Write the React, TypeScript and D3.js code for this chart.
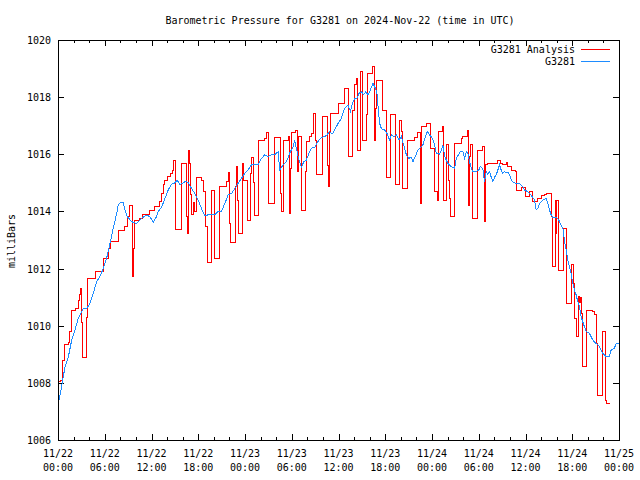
import React from "react";
import * as d3 from "d3";

// Time origin: 2024-11-22 00:00 UTC; times are hours after it
const T0 = Date.UTC(2024, 10, 22, 0, 0, 0);
const SPAN_HOURS = 72;

const title = "Barometric Pressure for G3281 on 2024-Nov-22 (time in UTC)";
const yAxisLabel = "milliBars";
const seriesNames = ["G3281 Analysis", "G3281"];
const seriesColors = ["#ff0000", "#1e8cff"];
const yTicks = [1006, 1008, 1010, 1012, 1014, 1016, 1018, 1020];

// G3281 (observations)
const blueHours = [
  0.13, 0.47, 0.9, 1.32, 1.76, 2.18, 2.6, 3.04, 3.24, 3.68,
  4.1, 4.53, 4.96, 5.38, 5.81, 6.24, 6.67, 7.09, 7.53, 7.73,
  8.04, 8.37, 8.59, 8.88, 9.45, 10.09, 10.73, 11.37, 11.79, 12.22,
  12.65, 12.86, 13.29, 13.72, 14.14, 14.58, 15.0, 15.29, 15.64, 16.28,
  16.71, 17.14, 17.56, 17.99, 18.42, 18.85, 19.27, 19.71, 20.13, 20.55,
  20.99, 21.41, 21.83, 22.27, 22.69, 23.12, 23.55, 23.97, 24.4, 24.83,
  25.26, 25.68, 26.12, 26.54, 26.96, 27.4, 27.82, 28.24, 28.46, 28.88,
  29.32, 29.74, 30.17, 30.38, 30.6, 30.81, 31.24, 31.54, 31.88, 32.22,
  32.53, 32.95, 33.37, 33.81, 34.23, 34.53, 34.87, 35.17, 35.51, 35.94,
  36.37, 36.79, 37.22, 37.53, 37.78, 38.08, 38.37, 38.63, 38.94, 39.23,
  39.49, 39.78, 40.09, 40.42, 40.73, 40.94, 41.06, 41.28, 41.5, 41.92,
  42.22, 42.56, 42.78, 43.12, 43.42, 43.76, 44.06, 44.36, 44.71, 45.04,
  45.35, 45.55, 45.86, 46.19, 46.5, 46.83, 47.18, 47.4, 47.69, 48.04,
  48.33, 48.55, 48.97, 49.19, 49.4, 49.62, 50.04, 50.47, 50.9, 51.12,
  51.63, 51.96, 52.18, 52.4, 52.6, 52.82, 53.04, 53.24, 53.68, 54.01,
  54.19, 54.53, 54.74, 54.96, 55.17, 55.38, 55.6, 55.81, 56.03, 56.24,
  56.45, 56.67, 56.88, 57.09, 57.31, 57.53, 57.73, 57.95, 58.17, 58.37,
  58.81, 59.23, 59.65, 59.87, 60.29, 60.73, 61.15, 61.37, 61.58, 61.79,
  62.22, 62.65, 62.86, 63.08, 63.29, 63.5, 63.94, 64.27, 64.58, 64.87,
  65.0, 65.22, 65.42, 65.64, 65.86, 66.06, 66.28, 66.5, 66.71, 66.92,
  67.14, 67.35, 67.56, 67.78, 68.21, 68.42, 68.63, 69.06, 69.49, 69.91,
  70.35, 70.77, 70.99, 71.41, 71.63, 72.0,
];
const blueValues = [
  1007.4, 1007.87, 1008.57, 1008.9, 1009.5, 1009.85, 1010.26, 1010.49, 1010.61, 1010.6,
  1010.78, 1011.13, 1011.54, 1011.72, 1012.0, 1012.36, 1012.88, 1013.41, 1013.93, 1014.22,
  1014.32, 1014.3, 1014.05, 1013.82, 1013.64, 1013.58, 1013.76, 1013.87, 1013.82, 1013.62,
  1013.82, 1014.0, 1014.15, 1014.45, 1014.75, 1014.95, 1015.0, 1015.1, 1014.93, 1015.04,
  1015.02, 1014.8, 1014.63, 1014.4, 1014.1, 1013.85, 1013.88, 1013.9, 1013.88, 1014.0,
  1014.0, 1014.28, 1014.57, 1014.63, 1014.8, 1014.98, 1015.16, 1015.33, 1015.45, 1015.63,
  1015.63, 1015.63, 1015.86, 1015.98, 1015.92, 1015.98, 1015.98, 1016.09, 1015.45, 1015.63,
  1015.74, 1016.04, 1016.27, 1016.5, 1016.2, 1015.92, 1015.55, 1015.74, 1015.8, 1016.04,
  1016.21, 1016.25, 1016.45, 1016.59, 1016.62, 1016.68, 1016.8, 1016.7, 1016.85, 1017.08,
  1017.26, 1017.61, 1017.73, 1017.5, 1017.78, 1017.96, 1017.96, 1018.13, 1018.19, 1018.08,
  1018.19, 1018.08, 1018.25, 1018.49, 1018.31, 1018.13, 1017.73, 1017.08, 1016.9, 1016.85,
  1016.73, 1016.5, 1016.68, 1016.62, 1016.68, 1016.5, 1016.62, 1016.33, 1015.98, 1015.86,
  1015.9, 1015.74, 1015.92, 1016.15, 1016.24, 1016.33, 1016.62, 1016.8, 1016.68, 1016.56,
  1016.33, 1016.04, 1016.0, 1016.15, 1016.33, 1015.92, 1015.68, 1015.57, 1015.51, 1015.86,
  1016.09, 1016.09, 1015.86, 1016.09, 1016.04, 1015.74, 1015.51, 1015.39, 1015.39, 1015.45,
  1015.59, 1015.5, 1015.04, 1015.39, 1015.3, 1015.39, 1015.2, 1015.04, 1015.2, 1015.28,
  1015.45, 1015.63, 1015.45, 1015.33, 1015.4, 1015.35, 1015.38, 1015.28, 1015.1, 1015.04,
  1014.98, 1014.98, 1014.87, 1014.75, 1014.69, 1014.57, 1014.4, 1014.05, 1014.1, 1014.28,
  1014.4, 1014.46, 1014.3, 1014.05, 1013.88, 1013.79, 1013.79, 1013.7, 1013.52, 1013.35,
  1012.94, 1012.65, 1012.3, 1012.07, 1011.83, 1011.49, 1011.25, 1011.08, 1010.84, 1010.67,
  1010.31, 1010.14, 1009.97, 1009.79, 1009.73, 1009.62, 1009.5, 1009.38, 1009.27, 1009.03,
  1008.92, 1008.92, 1009.15, 1009.21, 1009.38, 1009.38,
];

// G3281 Analysis (step series: value holds until next time)
const redHours = [
  0.13, 0.38, 0.64, 0.81, 1.32, 1.54, 1.76, 2.31, 2.6, 2.82,
  2.91, 3.04, 3.14, 3.68, 3.76, 4.83, 5.81, 6.45, 6.79, 7.82,
  8.59, 8.88, 9.23, 9.53, 9.62, 9.71, 9.83, 10.51, 10.86, 11.79,
  12.44, 13.08, 13.29, 13.5, 13.72, 14.01, 14.45, 14.71, 14.78, 15.13,
  15.81, 16.47, 16.58, 16.76, 16.92, 17.01, 17.14, 17.35, 17.56, 17.78,
  18.42, 18.63, 18.94, 19.14, 19.71, 20.13, 20.77, 21.63, 21.83, 22.05,
  22.18, 22.82, 22.91, 22.99, 23.12, 23.63, 23.85, 24.27, 24.68, 24.87,
  25.09, 25.26, 25.77, 26.54, 26.76, 27.05, 27.78, 28.53, 28.72, 28.88,
  29.53, 29.65, 29.78, 29.91, 30.47, 30.68, 30.86, 31.22, 31.71, 31.86,
  32.22, 32.53, 32.73, 32.82, 33.01, 33.14, 33.91, 34.62, 34.7, 34.81,
  34.87, 35.0, 35.94, 36.73, 37.22, 37.82, 37.99, 38.29, 38.5, 38.85,
  39.06, 39.14, 39.55, 39.78, 40.38, 40.64, 40.77, 40.94, 41.71, 42.14,
  42.65, 43.33, 43.88, 44.06, 44.19, 44.27, 44.87, 45.77, 46.19, 46.47,
  46.6, 47.27, 47.82, 48.33, 48.76, 48.85, 49.4, 49.53, 49.91, 50.13,
  50.26, 50.35, 50.9, 51.76, 51.96, 52.6, 52.69, 52.82, 52.91, 53.17,
  53.88, 54.53, 54.68, 54.87, 55.17, 56.45, 56.76, 57.09, 57.53, 57.73,
  58.17, 58.72, 58.88, 59.45, 60.0, 60.51, 60.94, 61.58, 62.01, 62.44,
  62.73, 63.29, 63.42, 63.5, 63.85, 63.94, 64.01, 64.23, 64.87, 65.22,
  65.29, 65.86, 66.15, 66.28, 66.5, 66.83, 66.92, 67.05, 67.14, 67.27,
  67.35, 67.78, 67.86, 68.63, 68.85, 69.06, 69.14, 69.27, 69.83, 69.91,
  70.29, 70.35, 70.9,
];
const redValues = [
  1008.04, 1008.1, 1008.8, 1009.33, 1009.41, 1009.8, 1010.55, 1010.6, 1010.9, 1011.08,
  1011.31, 1010.1, 1008.9, 1010.3, 1011.66, 1011.89, 1012.36, 1012.71, 1012.94, 1013.35,
  1013.47, 1013.82, 1014.22, 1013.9, 1011.72, 1012.7, 1013.7, 1013.76, 1013.88, 1014.05,
  1014.19, 1014.34, 1014.63, 1014.93, 1015.1, 1015.22, 1015.33, 1015.45, 1015.8, 1013.37,
  1015.68, 1013.82, 1013.23, 1016.15, 1015.68, 1014.6, 1013.88, 1014.3, 1014.0, 1015.19,
  1015.1, 1014.69, 1013.47, 1012.2, 1014.75, 1012.36, 1014.87, 1015.04, 1015.36, 1013.58,
  1012.91, 1014.87, 1015.57, 1014.4, 1013.23, 1015.68, 1015.1, 1013.7, 1015.33, 1015.9,
  1015.0, 1013.85, 1016.5, 1016.56, 1016.77, 1014.28, 1016.59, 1014.63, 1014.0, 1016.5,
  1016.64, 1013.94, 1015.5, 1016.77, 1016.85, 1015.39, 1016.62, 1014.05, 1015.39, 1016.44,
  1016.62, 1016.73, 1017.08, 1017.43, 1016.5, 1015.3, 1017.32, 1015.6, 1014.87, 1016.39,
  1016.8, 1017.43, 1017.78, 1018.31, 1015.92, 1017.55, 1018.43, 1018.66, 1016.15, 1018.9,
  1017.43, 1016.5, 1017.4, 1018.83, 1019.07, 1016.5, 1017.6, 1018.6, 1017.55, 1015.19,
  1017.41, 1014.96, 1017.2, 1016.8, 1016.5, 1014.81, 1016.5, 1016.59, 1016.76, 1014.28,
  1016.97, 1017.08, 1016.21, 1014.69, 1014.4, 1016.8, 1016.99, 1014.4, 1016.33, 1015.1,
  1014.46, 1013.82, 1016.39, 1016.56, 1016.64, 1016.85, 1014.22, 1015.92, 1016.33, 1013.76,
  1016.15, 1016.27, 1013.64, 1015.63, 1015.68, 1015.8, 1015.68, 1015.63, 1015.71, 1015.59,
  1015.45, 1015.39, 1014.75, 1014.84, 1014.54, 1014.69, 1014.34, 1014.46, 1014.57, 1014.6,
  1014.63, 1013.82, 1012.71, 1012.07, 1014.4, 1013.23, 1014.4, 1011.95, 1013.41, 1012.77,
  1010.78, 1012.13, 1011.49, 1010.26, 1009.62, 1011.02, 1010.8, 1011.0, 1010.43, 1009.15,
  1008.57, 1009.5, 1010.55, 1010.49, 1010.4, 1009.97, 1009.38, 1007.57, 1008.68, 1009.79,
  1007.4, 1007.28, 1007.28,
];

const FONT = "'DejaVu Sans Mono', 'Liberation Mono', monospace";

export default function App() {
  const W = 640;
  const H = 480;
  const left = 58;
  const right = 619;
  const top = 40;
  const bottom = 440;

  const toDate = (h: number) => new Date(T0 + h * 3600 * 1000);
  const x = d3
    .scaleUtc()
    .domain([toDate(0), toDate(SPAN_HOURS)])
    .range([left, right]);
  const y = d3.scaleLinear().domain([1006, 1020]).range([bottom, top]);

  const red = redHours.map((h, i) => ({ t: toDate(h), v: redValues[i] }));
  const blue = blueHours.map((h, i) => ({ t: toDate(h), v: blueValues[i] }));

  const redLine = d3
    .line<{ t: Date; v: number }>()
    .x((d) => x(d.t))
    .y((d) => y(d.v))
    .curve(d3.curveStepAfter);
  const blueLine = d3
    .line<{ t: Date; v: number }>()
    .x((d) => x(d.t))
    .y((d) => y(d.v));

  const majorTicks = x.ticks(d3.utcHour.every(6) as any);
  const minorTicks = x.ticks(d3.utcHour.every(2) as any);
  const fmtDay = d3.utcFormat("%m/%d");
  const fmtTime = d3.utcFormat("%H:%M");

  const px = (v: number) => Math.round(v) + 0.5;

  return (
    <svg
      width={W}
      height={H}
      style={{ position: "absolute", left: 0, top: 0, background: "#fff", display: "block" }}
      fontFamily={FONT}
      fontSize={10}
    >
      <rect x={0} y={0} width={W} height={H} fill="#fff" />
      <text x={340} y={24} textAnchor="middle" fill="#000">
        {title}
      </text>

      {/* y ticks and labels */}
      {yTicks.map((t) => (
        <g key={"y" + t} shapeRendering="crispEdges">
          <line x1={left} x2={left + 6} y1={px(y(t))} y2={px(y(t))} stroke="#000" />
          <line x1={right - 6} x2={right} y1={px(y(t))} y2={px(y(t))} stroke="#000" />
          <text x={51} y={y(t) + 4} textAnchor="end" fill="#000" shapeRendering="auto">
            {t}
          </text>
        </g>
      ))}

      {/* x minor ticks */}
      {minorTicks.map((d, i) => (
        <g key={"xm" + i} shapeRendering="crispEdges">
          <line x1={px(x(d))} x2={px(x(d))} y1={bottom} y2={bottom - 3} stroke="#000" />
          <line x1={px(x(d))} x2={px(x(d))} y1={top} y2={top + 3} stroke="#000" />
        </g>
      ))}
      {/* x major ticks and labels */}
      {majorTicks.map((d, i) => (
        <g key={"xM" + i}>
          <line x1={px(x(d))} x2={px(x(d))} y1={bottom} y2={bottom - 6} stroke="#000" shapeRendering="crispEdges" />
          <line x1={px(x(d))} x2={px(x(d))} y1={top} y2={top + 6} stroke="#000" shapeRendering="crispEdges" />
          <text x={x(d)} y={457} textAnchor="middle" fill="#000">
            {fmtDay(d)}
          </text>
          <text x={x(d)} y={471} textAnchor="middle" fill="#000">
            {fmtTime(d)}
          </text>
        </g>
      ))}

      {/* y axis label */}
      <text
        transform={`translate(15,241) rotate(-90)`}
        textAnchor="middle"
        fill="#000"
      >
        {yAxisLabel}
      </text>

      {/* series */}
      <path
        d={redLine(red) || ""}
        fill="none"
        stroke={seriesColors[0]}
        strokeWidth={1}
        shapeRendering="crispEdges"
      />
      <path
        d={blueLine(blue) || ""}
        fill="none"
        stroke={seriesColors[1]}
        strokeWidth={1}
        shapeRendering="crispEdges"
      />

      {/* legend */}
      {seriesNames.map((name, i) => (
        <g key={name}>
          <text x={575} y={53 + i * 12} textAnchor="end" fill="#000">
            {name}
          </text>
          <line
            x1={581}
            x2={610}
            y1={49.5 + i * 12}
            y2={49.5 + i * 12}
            stroke={seriesColors[i]}
            shapeRendering="crispEdges"
          />
        </g>
      ))}

      {/* border */}
      <rect
        x={left + 0.5}
        y={top + 0.5}
        width={right - left}
        height={bottom - top}
        fill="none"
        stroke="#000"
        shapeRendering="crispEdges"
      />
    </svg>
  );
}
